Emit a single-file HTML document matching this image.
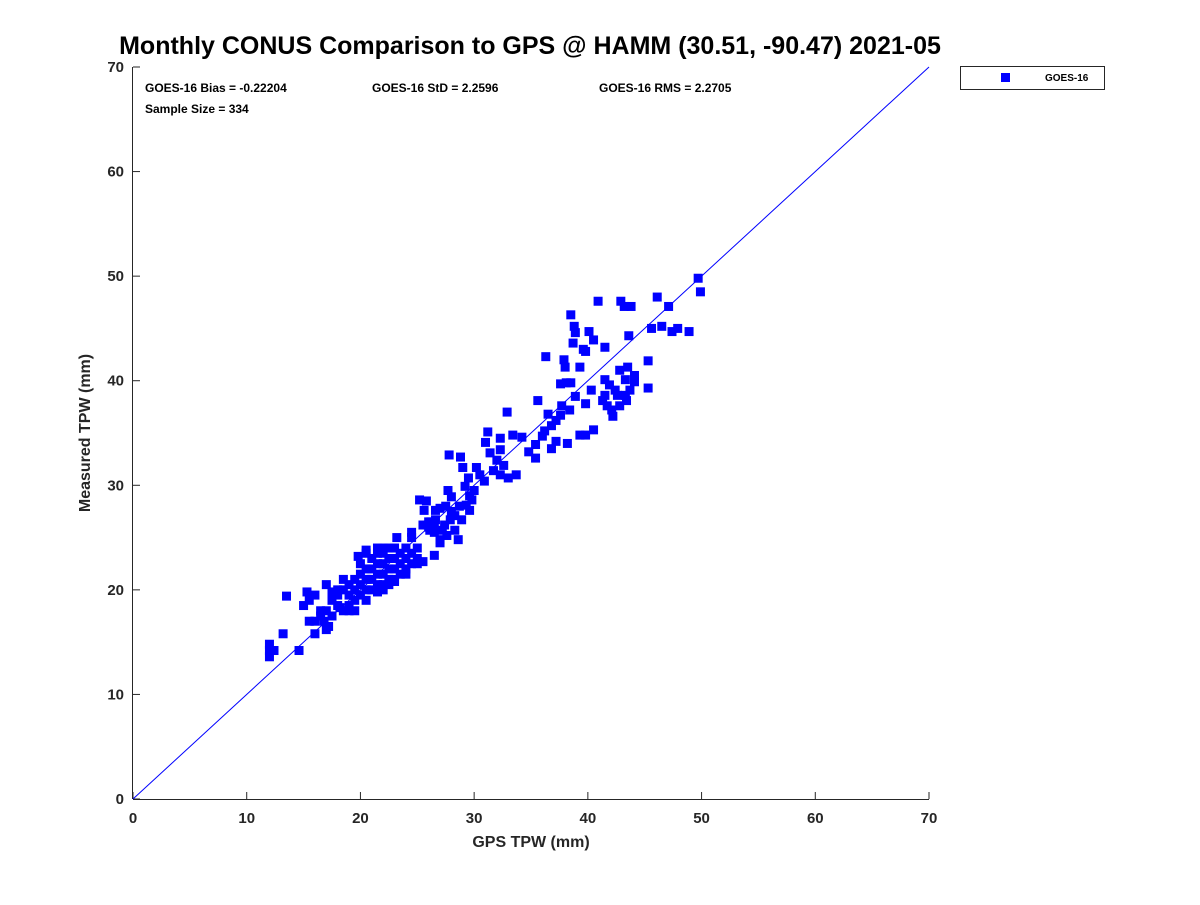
<!DOCTYPE html>
<html><head><meta charset="utf-8"><style>
body{margin:0;background:#fff;font-family:"Liberation Sans",sans-serif}
svg text{font-family:"Liberation Sans",sans-serif;font-weight:bold}
</style></head><body>
<svg id="c" width="1200" height="900" xmlns="http://www.w3.org/2000/svg">
<rect width="1200" height="900" fill="#fff"/>
<text x="530" y="54" font-size="25" text-anchor="middle" fill="#000">Monthly CONUS Comparison to GPS @ HAMM (30.51, -90.47) 2021-05</text>
<g id="axes"></g>
<g id="pts"></g>
<text x="145" y="92" font-size="12">GOES-16 Bias = -0.22204</text>
<text x="372" y="92" font-size="12">GOES-16 StD = 2.2596</text>
<text x="599" y="92" font-size="12">GOES-16 RMS = 2.2705</text>
<text x="145" y="113" font-size="12">Sample Size = 334</text>
<text x="531" y="847" font-size="16" text-anchor="middle" fill="#262626">GPS TPW (mm)</text>
<text transform="translate(90,433) rotate(-90)" font-size="16" text-anchor="middle" fill="#262626">Measured TPW (mm)</text>
<g>
<rect x="960.5" y="66.5" width="144" height="23" fill="#fff" stroke="#262626"/>
<rect x="1001" y="73" width="9" height="9" fill="#0000ff"/>
<text x="1045" y="81" font-size="10">GOES-16</text>
</g>
</svg>
<script>
const xTicks=[0,10,20,30,40,50,60,70];
const yTicks=[0,10,20,30,40,50,60,70];
const gpsTPW=[49.7,49.9,47.1,46.1,46.5,47.4,47.9,48.9,45.6,45.3,45.3,44.1,43.6,42.9,43.2,43.8,40.9,41.5,40.5,40.1,39.8,39.3,38.5,38.8,38.9,39.6,38.7,37.9,38.0,36.3,38.1,38.5,37.6,35.6,38.9,38.4,39.8,40.3,40.5,39.3,39.8,38.2,37.2,36.0,35.4,34.8,34.2,33.4,32.9,32.3,32.3,32.0,31.0,31.4,33.7,32.6,35.4,36.8,36.5,37.2,37.6,37.7,36.8,36.2,
41.5,41.9,42.4,41.5,41.7,42.1,42.8,43.4,43.7,43.3,42.8,44.1,42.2,43.3,41.3,42.6,43.5,
27.8,28.8,29.0,31.2,30.2,30.5,29.5,29.2,29.8,28.7,29.6,28.3,28.9,27.9,27.4,28.3,27.6,27.0,27.7,28.0,27.0,26.6,25.9,25.2,25.6,26.1,26.6,27.2,28.6,29.3,30.0,30.9,31.7,33.0,32.3,29.6,
17,17.5,18,18,18.5,18.5,19,19,19,19.5,19.5,19.5,20,20,20,20,20.5,20.5,20.5,20.5,21,21,21,21,21.5,21.5,21.5,21.5,22,22,22,22,22.5,22.5,22.5,22.5,23,23,23,23,23.5,23.5,23.5,24,24,24,24.5,24.5,24.5,25,25,19.8,20.5,21.5,22,23.2,24.5,25.8,25.5,26,26.5,26.5,27,25.5,18.5,17,17.5,18,16,16.5,16.8,16,15.5,17.2,17,16.5,17.5,18.2,15,15.5,15.3,13.5,13.2,12,12,12,12.4,14.6,16,19.5,19,20.5,21.5,22,23,22.5,24,25,26.2,26.5,27.5,28,26];
const measuredTPW=[49.8,48.5,47.1,48.0,45.2,44.7,45.0,44.7,45.0,41.9,39.3,40.5,44.3,47.6,47.1,47.1,47.6,43.2,43.9,44.7,42.8,41.3,46.3,45.2,44.6,43.0,43.6,42.0,41.3,42.3,39.8,39.8,39.7,38.1,38.5,37.2,37.8,39.1,35.3,34.8,34.8,34.0,34.2,34.7,33.9,33.2,34.6,34.8,37.0,34.5,33.4,32.4,34.1,33.1,31.0,31.9,32.6,33.5,36.8,36.2,36.7,37.6,35.7,35.2,
40.1,39.6,39.1,38.6,37.6,37.2,37.6,38.1,39.1,40.1,41.0,39.9,36.6,38.6,38.1,38.6,41.3,
32.9,32.7,31.7,35.1,31.7,31.0,30.7,29.9,28.6,28.0,27.6,27.1,26.7,26.7,26.2,25.7,25.2,24.8,29.5,28.9,27.8,26.7,26.2,28.6,27.6,25.7,27.6,25.7,24.8,28.1,29.5,30.4,31.4,30.7,31.0,29.0,
18,19,18.5,19.5,18,20,18.5,19.5,20.5,19,20,21,19.5,20.5,21.5,22.5,20,21,22,23.5,20,21,22,23,20.5,21.5,22.5,23.5,20.5,21.5,22.5,23.5,21,22,23,24,21,22,23,24,21.5,22.5,23.5,22,23,24,22.5,23.5,25,23,24,23.2,23.8,24,24,25,25.5,28.5,26.2,26,25.5,23.3,24.5,22.7,21,20.5,19.8,20,19.5,18,17,17,17,16.5,16.2,17.5,17.5,18.3,18.5,19,19.8,19.4,15.8,14.8,14.2,13.6,14.2,14.2,15.8,18,18,19,19.8,20,20.8,20.5,21.5,22.5,26.5,26,28,27.5,26.5];

const X0=133,X1=929,Y0=799,Y1=67;
const xs=v=>X0+(v-0)/(70-0)*(X1-X0);
const ys=v=>Y0-(v-0)/(70-0)*(Y0-Y1);
const NS="http://www.w3.org/2000/svg";
const axes=document.getElementById('axes');
function mk(tag,attrs,parent){const e=document.createElementNS(NS,tag);for(const k in attrs)e.setAttribute(k,attrs[k]);parent.appendChild(e);return e;}
let l=mk('line',{x1:X0,y1:Y0+0.5,x2:X1,y2:Y0+0.5,stroke:'#262626','stroke-width':1},axes);


l=mk('line',{x1:X0-0.5,y1:Y0,x2:X0-0.5,y2:Y1,stroke:'#262626','stroke-width':1},axes);


xTicks.forEach(t=>{
  const x=xs(t);
  const tk=mk('line',{x1:x,y1:Y0,x2:x,y2:Y0-7,stroke:'#262626'},axes);
  
  
  const tx=mk('text',{x:x,y:Y0+24,'font-size':15,'text-anchor':'middle',fill:'#262626'},axes);
  tx.textContent=t;
  
  
});
yTicks.forEach(t=>{
  const y=ys(t);
  const tk=mk('line',{x1:X0,y1:y,x2:X0+7,y2:y,stroke:'#262626'},axes);
  
  
  const tx=mk('text',{x:X0-9,y:y+5,'font-size':15,'text-anchor':'end',fill:'#262626'},axes);
  tx.textContent=t;
  
  
});
const ref=mk('line',{x1:xs(0),y1:ys(0),x2:xs(70),y2:ys(70),stroke:'#0000ff','stroke-width':1},axes);


const pts=document.getElementById('pts');
for(let i=0;i<gpsTPW.length;i++){
  const r=mk('rect',{x:xs(gpsTPW[i])-4.5,y:ys(measuredTPW[i])-4.5,width:9,height:9,fill:'#0000ff'},pts);
  
  
}
</script>
</body></html>
